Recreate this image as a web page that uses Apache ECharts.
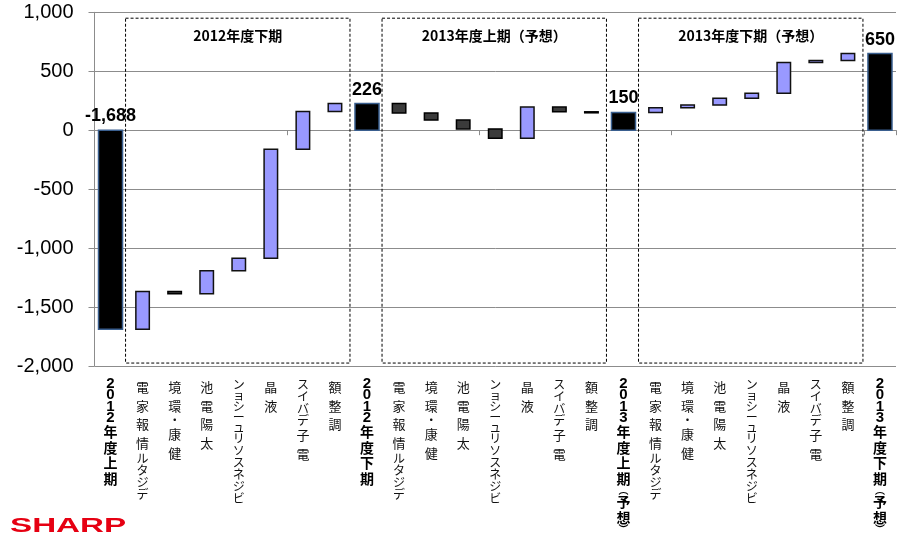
<!DOCTYPE html>
<html>
<head>
<meta charset="utf-8">
<script src="https://cdn.jsdelivr.net/npm/echarts@6/dist/echarts.min.js"></script>
<style>
html,body{margin:0;padding:0;background:#fff;}
#c{width:897px;height:536px;}
</style>
</head>
<body>
<div id="c"></div>
<script>
// ---------- data ----------
const categories = [
  '2012年度上期','デジタル情報家電','健康・環境','太陽電池','ビジネスソリューション','液晶','電子デバイス','調整額',
  '2012年度下期','デジタル情報家電','健康・環境','太陽電池','ビジネスソリューション','液晶','電子デバイス','調整額',
  '2013年度上期(予想)','デジタル情報家電','健康・環境','太陽電池','ビジネスソリューション','液晶','電子デバイス','調整額',
  '2013年度下期(予想)'
];
// indices of the subtotal bars (black)
const totalIndex = [0, 8, 16, 24];
// subtotal values at totalIndex, changes elsewhere
const values = [
  -1688, 320, -20, 195, 107, 925, 320, 67,
  226, -80, -60, -75, -80, 265, -40, -6,
  150, 40, 23, 57, 43, 261, 17, 59,
  650
];
const groupTitles = ['2012年度下期', '2013年度上期（予想）', '2013年度下期（予想）'];
const groupFirst = [1, 9, 17];
const groupLast = [7, 15, 23];
const yTicks = { min: -2000, max: 1000, step: 500 };

// ---------- build waterfall rows ----------
let run = 0;
const rows = values.map((v, i) => {
  if (totalIndex.includes(i)) { run = v; return [i, Math.min(0, v), Math.max(0, v), 0, v]; }
  const a = run, b = run + v; run = b;
  return [i, Math.min(a, b), Math.max(a, b), v >= 0 ? 1 : 2, v];
});

const JP = '"Noto Sans CJK JP", "Noto Sans CJK SC", sans-serif';
const fmt = v => v.toLocaleString('en-US');

function charKey(ch) {
  if (/[0-9]/.test(ch)) return 'd';
  if (ch === '(') return 'po';
  if (ch === ')') return 'pc';
  if ('ァィゥェォッャュョー・'.indexOf(ch) >= 0) return 's';
  if (/[\u3040-\u30FF]/.test(ch)) return 'n';
  return 'k';
}
function verticalLabel(value, index) {
  const total = totalIndex.indexOf(index) >= 0;
  let chars = Array.from(String(value));
  if (!total) chars = chars.slice().reverse();
  return chars.map(c => {
    const k = charKey(c);
    const shown = c === '(' ? '︵' : c === ')' ? '︶' : c;
    return '{' + (total ? 't' + k : k) + '|' + shown + '}';
  }).join('\n');
}

const chart = echarts.init(document.getElementById('c'));

const option = {
  animation: false,
  backgroundColor: '#fff',
  grid: { left: 94.5, right: 1, top: 12.3, bottom: 170, containLabel: false, outerBoundsMode: 'none' },
  xAxis: [{
    // axis line + ticks on the zero value
    type: 'category',
    data: categories,
    boundaryGap: true,
    axisLine: { onZero: true, lineStyle: { color: '#8c8c8c', width: 1 } },
    axisTick: { show: true, length: 5, lineStyle: { color: '#8c8c8c' } },
    splitLine: { show: false },
    axisLabel: { show: false }
  }, {
    // labels along the bottom
    type: 'category',
    data: categories,
    position: 'bottom',
    boundaryGap: true,
    axisLine: { show: false, onZero: false },
    axisTick: { show: false },
    splitLine: { show: false },
    axisLabel: {
      interval: 0,
      margin: 12,
      hideOverlap: false,
      formatter: verticalLabel,
      color: '#111',
      rich: {
        k: { fontSize: 13, lineHeight: 18.5, fontFamily: JP, color: '#111' },
        n: { fontSize: 12, lineHeight: 12, fontFamily: JP, color: '#111' },
        s: { fontSize: 12, lineHeight: 10, fontFamily: JP, color: '#111' },
        tk: { fontSize: 14, lineHeight: 15.5, fontWeight: 'bold', fontFamily: JP, color: '#000' },
        td: { fontSize: 15, lineHeight: 11.5, fontWeight: 'bold', fontFamily: '"Liberation Sans", Arial, sans-serif', color: '#000' },
        tpo: { fontSize: 10, lineHeight: 8, fontWeight: 'bold', fontFamily: JP, color: '#000', padding: [0, 0, 0, 0] },
        tpc: { fontSize: 10, lineHeight: 8, fontWeight: 'bold', fontFamily: JP, color: '#000' },
        ts: { fontSize: 13, lineHeight: 10, fontWeight: 'bold', fontFamily: JP, color: '#000' },
        tn: { fontSize: 13, lineHeight: 12, fontWeight: 'bold', fontFamily: JP, color: '#000' }
      }
    }
  }],
  yAxis: {
    type: 'value',
    min: yTicks.min,
    max: yTicks.max,
    interval: yTicks.step,
    axisLine: { show: true, lineStyle: { color: '#8c8c8c', width: 1 } },
    axisTick: { show: true, length: 6, lineStyle: { color: '#8c8c8c' } },
    splitLine: { show: true, lineStyle: { color: '#8c8c8c', width: 1 } },
    axisLabel: {
      margin: 21,
      fontSize: 20,
      color: '#000',
      fontFamily: '"Liberation Sans", Arial, sans-serif',
      formatter: v => fmt(v)
    }
  },
  series: [{
    type: 'custom',
    xAxisIndex: 0,
    data: rows,
    encode: { x: 0, y: [1, 2] },
    clip: false,
    renderItem: function (params, api) {
      const i = api.value(0), lo = api.value(1), hi = api.value(2), kind = api.value(3), raw = api.value(4);
      const band = api.size([1, 0])[0];
      const pTop = api.coord([i, hi]);
      const pBot = api.coord([i, lo]);
      const w = band * (kind === 0 ? 0.75 : 0.42);
      const h = Math.max(pBot[1] - pTop[1], 1);
      const style = kind === 0
        ? { fill: '#000', stroke: '#3a5f8f', lineWidth: 1.5 }
        : kind === 1
          ? { fill: '#9999ff', stroke: '#111', lineWidth: 1.5 }
          : { fill: '#3b3b3b', stroke: '#000', lineWidth: 1.5 };
      const rect = { type: 'rect', shape: { x: pTop[0] - w / 2, y: pTop[1], width: w, height: h }, style: style };
      if (kind !== 0) return rect;
      return {
        type: 'group',
        children: [rect, {
          type: 'text',
          style: {
            text: fmt(raw),
            x: pTop[0], y: pTop[1] - 5,
            align: 'center', verticalAlign: 'bottom',
            fontSize: 18, fontWeight: 'bold',
            fontFamily: '"Liberation Sans", Arial, sans-serif',
            fill: '#000'
          }
        }]
      };
    }
  }],
  graphic: [{
    type: 'text',
    id: 'logo',
    x: 10, y: 526,
    scaleX: 1.58,
    style: {
      text: 'SHARP', x: 0, y: 0, verticalAlign: 'middle',
      fontSize: 21, fontWeight: 'bold', fontFamily: '"Liberation Sans", Arial, sans-serif',
      fill: '#e60012'
    }
  }]
};
chart.setOption(option);

// ---------- group boxes (placed through the axes) ----------
const P = (x, y) => chart.convertToPixel({ xAxisIndex: 0, yAxisIndex: 0 }, [x, y]);
const band = P(1, 0)[0] - P(0, 0)[0];
const boxes = [];
groupTitles.forEach((t, g) => {
  const a = P(groupFirst[g], 950), b = P(groupLast[g], -1975);
  const x0 = a[0] - band / 2 - 1, x1 = b[0] + band / 2 - 1;
  boxes.push({
    type: 'rect', z: 10,
    shape: { x: x0, y: a[1], width: x1 - x0, height: b[1] - a[1] },
    style: { fill: 'none', stroke: '#000', lineWidth: 1, lineDash: [3, 2] }
  });
  const ty = P(groupFirst[g], 805)[1];
  boxes.push({
    type: 'text', z: 10,
    style: {
      text: t, x: (x0 + x1) / 2, y: ty, align: 'center', verticalAlign: 'middle',
      fontSize: 14, fontWeight: 'bold', fontFamily: JP, fill: '#000'
    }
  });
});
chart.setOption({ graphic: option.graphic.concat(boxes) });
</script>
</body>
</html>
